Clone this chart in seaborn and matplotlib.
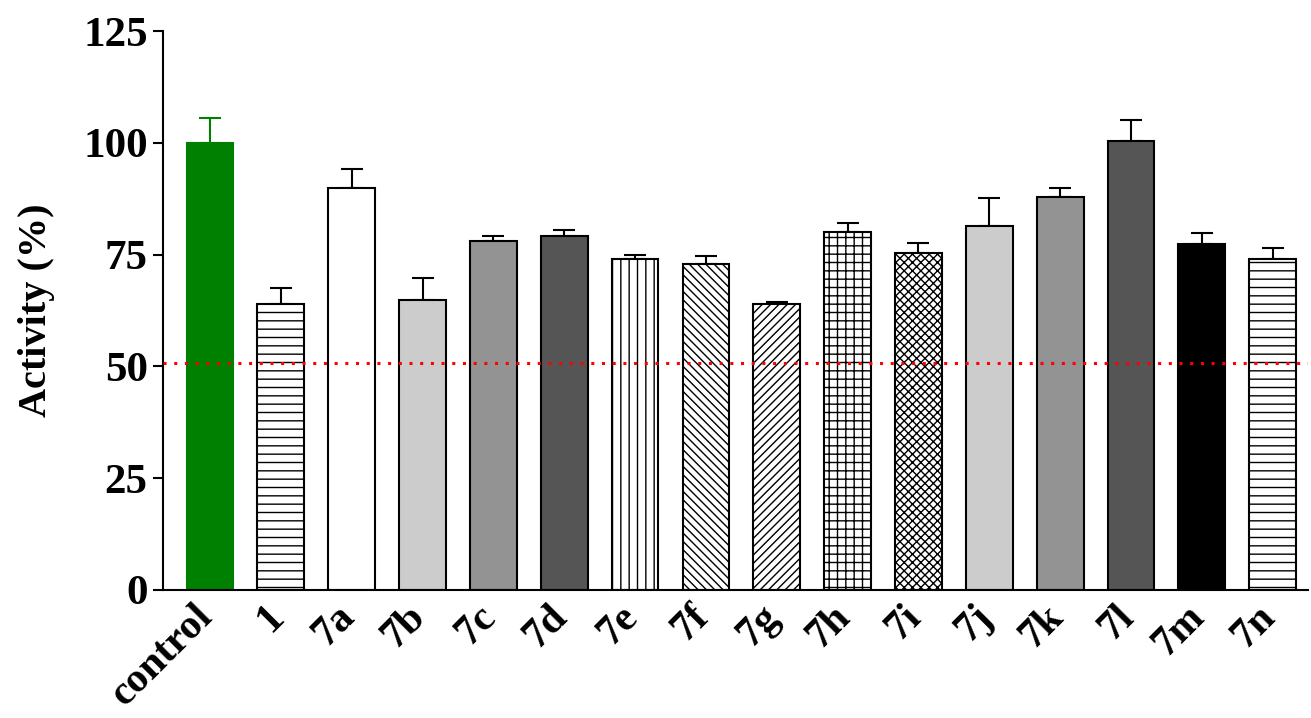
import matplotlib
matplotlib.use("Agg")
import matplotlib.pyplot as plt
import matplotlib.transforms as mtransforms
import seaborn as sns
import pandas as pd

# Compound activity data (mean and upper SD)
compounds = ["control", "1", "7a", "7b", "7c", "7d", "7e", "7f", "7g",
             "7h", "7i", "7j", "7k", "7l", "7m", "7n"]
activity = [100.0, 64.0, 90.0, 64.8, 78.0, 79.1, 74.1, 72.8, 64.0,
            80.0, 75.3, 81.4, 87.9, 100.5, 77.3, 74.1]
sd = [5.5, 3.6, 4.2, 4.9, 1.2, 1.3, 0.7, 1.9, 0.4,
      2.0, 2.2, 6.2, 1.9, 4.5, 2.5, 2.3]
threshold = 50.8
y_ticks = [0, 25, 50, 75, 100, 125]

fills = ["#008000", "white", "white", "#cccccc", "#939393", "#555555",
         "white", "white", "white", "white", "white", "#cccccc",
         "#939393", "#555555", "black", "white"]
hatches = ["", "--", "", "", "", "", "||", "\\\\\\\\", "////", "++", "xxxx",
           "", "", "", "", "--"]

sns.set_theme(style="white")
plt.rcParams["font.family"] = ["Liberation Serif", "DejaVu Serif"]
plt.rcParams["font.weight"] = "bold"
plt.rcParams["text.color"] = "black"
plt.rcParams["axes.labelcolor"] = "black"
plt.rcParams["xtick.color"] = "black"
plt.rcParams["ytick.color"] = "black"
plt.rcParams["hatch.linewidth"] = 1.0
plt.rcParams["hatch.color"] = "black"

df = pd.DataFrame({"compound": compounds, "activity": activity})

fig = plt.figure(figsize=(13.11, 7.18), dpi=100)
ax = fig.add_axes([0.1243, 0.1783, 0.8735, 0.7785])

sns.barplot(data=df, x="compound", y="activity", hue="compound",
            palette=fills, legend=False, width=0.66, ax=ax,
            edgecolor="black", linewidth=1.5, saturation=1, errorbar=None)

for i, patch in enumerate(ax.patches):
    patch.set_hatch(hatches[i])
    if i == 0:
        patch.set_edgecolor("#008000")
    patch.set_zorder(2)

err_colors = ["#008000"] + ["black"] * (len(compounds) - 1)
for i in range(len(compounds)):
    ax.errorbar(i, activity[i], yerr=[[0], [sd[i]]], fmt="none",
                ecolor=err_colors[i], elinewidth=1.5, capsize=8,
                capthick=1.5, zorder=1)

ax.axhline(threshold, color="red", linewidth=2.2,
           linestyle=(0, (1, 2.5)), zorder=5)

ax.set_ylim(0, 125)
ax.set_xlim(-0.664, 15.5)
ax.set_yticks(y_ticks)
ax.set_yticklabels([str(t) for t in y_ticks], fontsize=31, fontweight="bold")
ax.set_xticks(range(len(compounds)))
ax.set_xticklabels(compounds, rotation=45, ha="right", va="center",
                   rotation_mode="anchor", fontsize=30, fontweight="bold")
ax.tick_params(axis="y", direction="out", length=7, width=1.5, pad=4,
               left=True)
ax.tick_params(axis="x", length=0, pad=15)
shift = mtransforms.ScaledTranslation(-2 / 72, 0, fig.dpi_scale_trans)
for lbl in ax.get_xticklabels():
    lbl.set_transform(lbl.get_transform() + shift)
ax.set_xlabel("")
ax.set_ylabel("Activity (%)", fontsize=29, fontweight="bold", labelpad=20)

for side in ["top", "right"]:
    ax.spines[side].set_visible(False)
for side in ["left", "bottom"]:
    ax.spines[side].set_color("black")
    ax.spines[side].set_linewidth(1.5)

fig.savefig("out.png", dpi=100)
